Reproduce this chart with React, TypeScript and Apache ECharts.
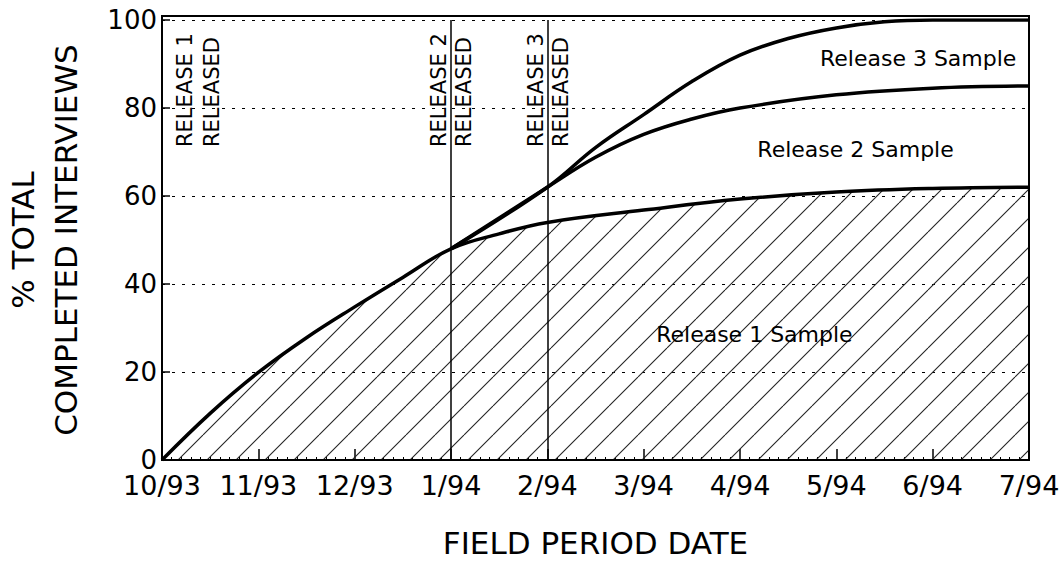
import React, { useEffect, useRef } from "react";
import * as echarts from "echarts";

// Month index 0..9 maps to these labels
const monthLabels = ["10/93", "11/93", "12/93", "1/94", "2/94", "3/94", "4/94", "5/94", "6/94", "7/94"];

// % total completed interviews, [monthIndex, value]
const release1Sample = [
  [0, 0], [0.5, 10.6], [1, 19.9], [1.5, 27.8], [2, 34.8], [2.5, 41.5], [3, 48],
  [3.5, 51.4], [4, 54], [5, 56.8], [6, 59.3], [7, 60.9], [8, 61.7], [9, 62],
];
const release2Sample = [
  [3, 48], [4, 62], [4.5, 68.8], [5, 74], [5.5, 77.5], [6, 80], [7, 83], [8, 84.5], [9, 85],
];
const release3Sample = [
  [3, 48], [4, 62], [4.5, 71], [5, 78.5], [5.5, 86], [6, 92], [6.5, 95.8], [7, 98.2], [7.5, 99.6], [8, 100], [9, 100],
];

const releaseDates = [0, 3, 4];
const releaseNames = ["RELEASE 1", "RELEASE 2", "RELEASE 3"];
const sampleLabels = [
  { text: "Release 1 Sample", x: 5.13, y: 28.6 },
  { text: "Release 2 Sample", x: 6.18, y: 70.5 },
  { text: "Release 3 Sample", x: 6.83, y: 91.3 },
];

const FONT = "DejaVu Sans";

function makeHatch(): HTMLCanvasElement {
  const s = 29;
  const c = document.createElement("canvas");
  c.width = s;
  c.height = s;
  const ctx = c.getContext("2d")!;
  ctx.strokeStyle = "#222";
  ctx.lineWidth = 1.1;
  for (let k = -1; k <= 1; k++) {
    ctx.beginPath();
    ctx.moveTo(k * s, s);
    ctx.lineTo(k * s + s, 0);
    ctx.stroke();
  }
  return c;
}

export default function App() {
  const ref = useRef<HTMLDivElement>(null);
  useEffect(() => {
    if (!ref.current) return;
    const chart = echarts.init(ref.current, undefined, { renderer: "svg" });
    const hatch = makeHatch();
    const lineCommon = {
      type: "line" as const,
      smooth: 0.4,
      showSymbol: false,
      symbol: "none",
      silent: true,
      lineStyle: { color: "#000", width: 3.5 },
    };
    chart.setOption({
      animation: false,
      backgroundColor: "#fff",
      grid: { left: 162, right: 34, top: 20, bottom: 103, outerBoundsMode: "none", containLabel: false },
      xAxis: {
        type: "value",
        min: 0,
        max: 9,
        interval: 1,
        name: "FIELD PERIOD DATE",
        nameLocation: "middle",
        nameGap: 67,
        nameTextStyle: { fontFamily: FONT, fontSize: 31, color: "#000" },
        axisLine: { show: true, lineStyle: { color: "#000", width: 2 } },
        axisTick: { show: true, inside: true, length: 11, lineStyle: { color: "#000", width: 1.5 } },
        minorTick: { show: true, splitNumber: 10, length: 3, lineStyle: { color: "#000", width: 1 } },
        splitLine: { show: false },
        axisLabel: {
          fontFamily: FONT,
          fontSize: 27,
          color: "#000",
          margin: 12,
          hideOverlap: false,
          formatter: (v: number) => monthLabels[Math.round(v)] ?? "",
        },
      },
      yAxis: {
        type: "value",
        min: 0,
        max: 100,
        interval: 20,
        name: "% TOTAL\nCOMPLETED INTERVIEWS",
        nameLocation: "middle",
        nameRotate: 90,
        nameGap: 75,
        nameTextStyle: { fontFamily: FONT, fontSize: 31, color: "#000", lineHeight: 43, align: "center" },
        axisLine: { show: true, lineStyle: { color: "#000", width: 2 } },
        axisTick: { show: true, inside: true, length: 8, lineStyle: { color: "#000", width: 1.5 } },
        splitLine: { show: true, lineStyle: { color: "#000", width: 1, type: [3, 7] } },
        axisLabel: { fontFamily: FONT, fontSize: 26, color: "#000", margin: 5 },
      },
      series: [
        {
          ...lineCommon,
          name: "Release 1",
          data: release1Sample,
          areaStyle: { color: { image: hatch, repeat: "repeat" }, opacity: 1 },
          markLine: {
            silent: true,
            symbol: "none",
            label: { show: false },
            lineStyle: { color: "#000", width: 1.5, type: "solid" },
            data: releaseDates.slice(1).map((d) => ({ xAxis: d })),
          },
          z: 2,
        },
        { ...lineCommon, name: "Release 2", data: release2Sample, z: 3 },
        { ...lineCommon, name: "Release 3", data: release3Sample, z: 3 },
      ],
    });

    const px = (x: number, y: number) => chart.convertToPixel({ gridIndex: 0 }, [x, y]) as number[];
    const [x0, yTop] = px(0, 100);
    const [x9, yBot] = px(9, 0);
    const offsets = [
      [23, 50],
      [-12, 13],
      [-11, 14],
    ];
    const graphics: any[] = [
      {
        type: "rect",
        silent: true,
        shape: { x: x0, y: yTop - 4, width: x9 - x0, height: yBot - yTop + 4 },
        style: { fill: "none", stroke: "#000", lineWidth: 2 },
        z: 10,
      },
    ];
    releaseDates.forEach((d, i) => {
      const [lx] = px(d, 0);
      const texts = [releaseNames[i], "RELEASED"];
      texts.forEach((t, j) => {
        graphics.push({
          type: "text",
          silent: true,
          x: lx + offsets[i][j],
          y: 147,
          rotation: Math.PI / 2,
          style: {
            text: t,
            fontFamily: FONT,
            fontSize: 21,
            fill: "#000",
            textAlign: "left",
            textVerticalAlign: "middle",
          },
          z: 10,
        });
      });
    });
    sampleLabels.forEach((s) => {
      const [sx, sy] = px(s.x, s.y);
      graphics.push({
        type: "text",
        silent: true,
        x: sx,
        y: sy,
        style: {
          text: s.text,
          fontFamily: FONT,
          fontSize: 22,
          fill: "#000",
          textAlign: "left",
          textVerticalAlign: "middle",
        },
        z: 10,
      });
    });
    chart.setOption({ graphic: graphics });

    return () => chart.dispose();
  }, []);
  return (
    <div
      ref={ref}
      style={{ position: "absolute", left: 0, top: 0, width: 1063, height: 563 }}
    />
  );
}
